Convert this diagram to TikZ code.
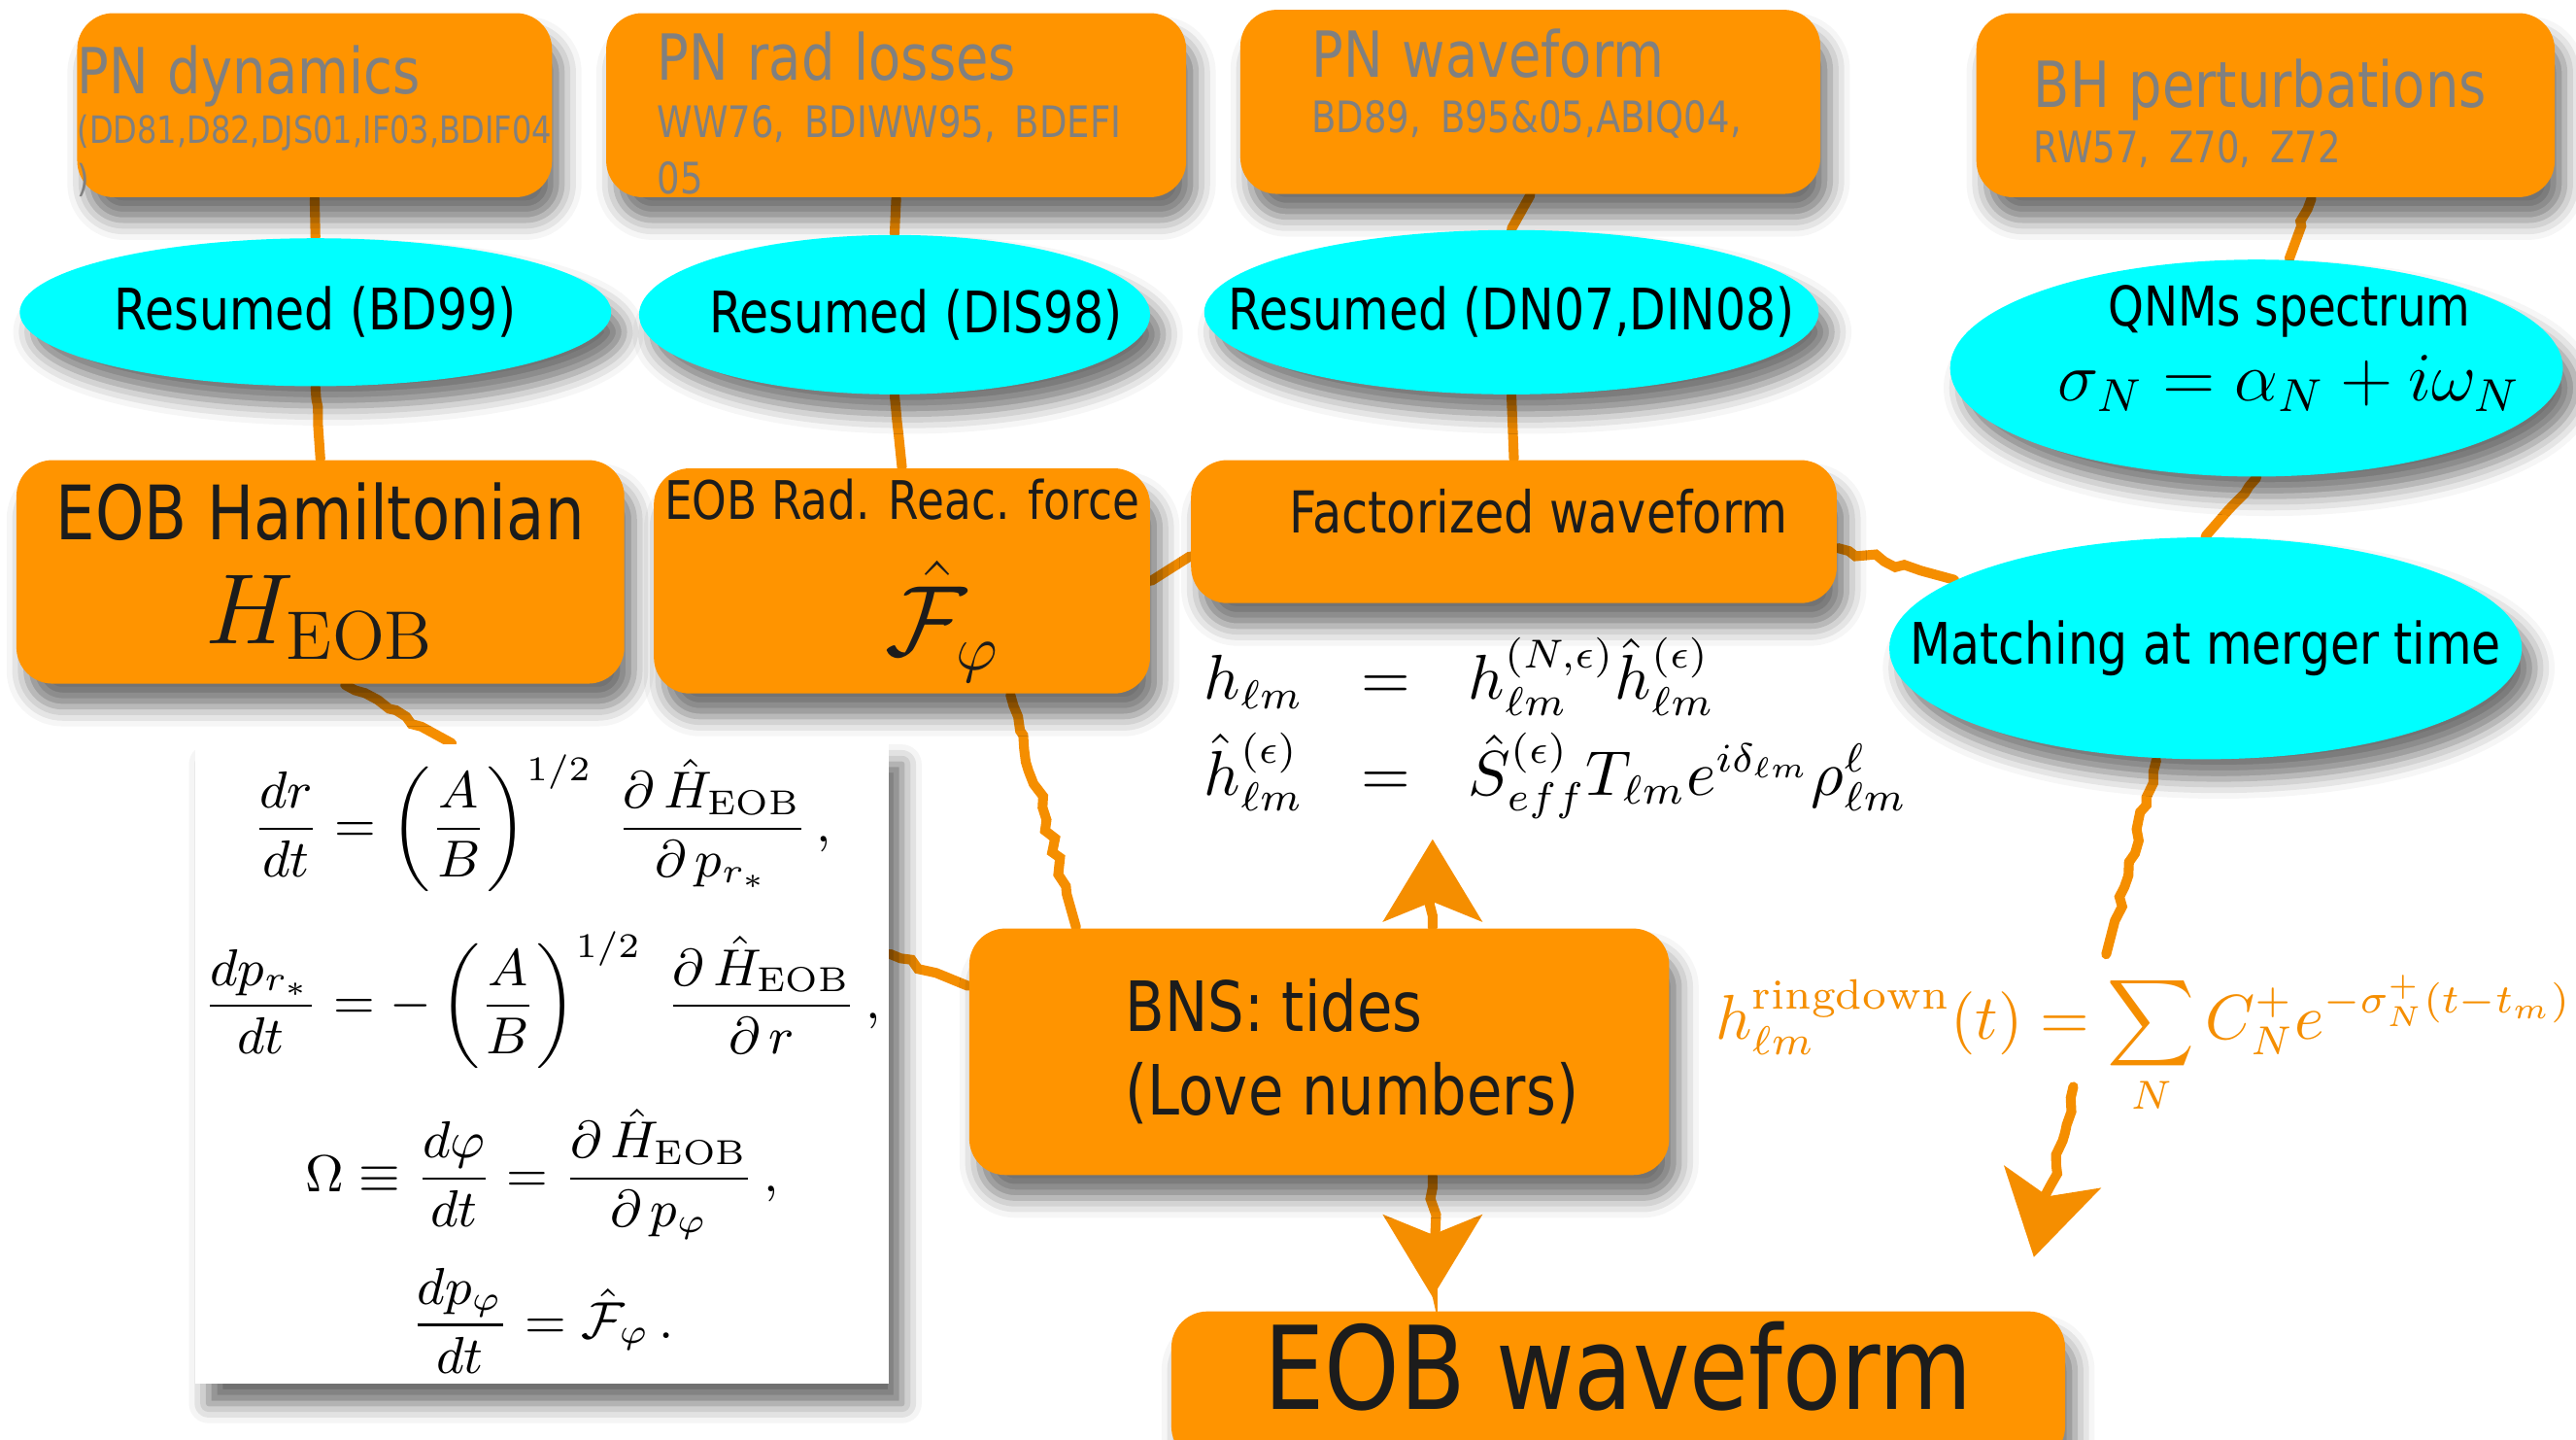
\documentclass[tikz,border=0pt]{standalone}
\usepackage{amsmath, amssymb}
\usepackage{fontspec}
\usetikzlibrary{shapes.geometric, arrows.meta, decorations.pathmorphing, shadows.blur}
\newfontfamily\handfont{DejaVu Sans}[FakeStretch=0.83]
\newcommand{\fsz}[2]{\fontsize{#1}{#2}\selectfont}
\definecolor{boxorange}{RGB}{255,148,0}
\definecolor{chalk}{RGB}{245,142,0}
\definecolor{qnmcyan}{RGB}{0,255,255}
\definecolor{refgray}{RGB}{128,128,128}
\definecolor{ink}{RGB}{28,28,28}
\pgfdeclarelayer{back}
\pgfsetlayers{back,main}

\begin{document}
\begin{tikzpicture}[
    ob/.style={rounded corners=0.22cm, fill=boxorange, text=ink, align=center,
               font=\handfont, inner sep=0pt,
               blur shadow={shadow xshift=0.6mm, shadow yshift=-1.4mm,
                            shadow blur radius=1.2mm, shadow opacity=55}},
    rb/.style={ob, text=refgray, align=left, minimum height=1.12cm},
    el/.style={ellipse, fill=qnmcyan, inner sep=0pt,
               blur shadow={shadow xshift=0.8mm, shadow yshift=-1.2mm,
                            shadow blur radius=1.2mm, shadow opacity=55}},
    et/.style={font=\handfont\fsz{9.9}{12}, align=center},
    eqbox/.style={fill=white, inner sep=0pt, minimum width=4.22cm, minimum height=3.89cm,
               blur shadow={shadow xshift=0.8mm, shadow yshift=-1.2mm,
                            shadow blur radius=1.2mm, shadow opacity=60}},
    ln/.style={draw=chalk, line width=1.7pt, line cap=round, decorate,
               decoration={random steps, segment length=2pt, amplitude=0.7pt,
                           pre length=2pt, post length=6pt}},
    ar/.style={ln, -{Stealth[length=0.5cm, width=0.6cm, inset=0.12cm]}}
  ]
  \useasboundingbox (0,0) rectangle (15.68,-8.76);

  % literature
  \node[rb, minimum width=2.89cm, text width=2.89cm, inner xsep=0pt] (pndyn) at (1.915,-0.64)
    {{\fsz{11}{13}PN dynamics\par}\fsz{6.5}{8.5}(DD81,D82,DJS01,IF03,BDIF04\\)\par\vspace*{-0.2cm}};
  \node[rb, minimum width=3.53cm, text width=2.91cm, inner xsep=0.31cm] (pnrad) at (5.455,-0.64)
    {{\fsz{11}{13}PN rad losses\par}\fsz{7.5}{9.8}WW76, BDIWW95, BDEFI\\05\par\vspace*{-0.1cm}};
  \node[rb, minimum width=3.53cm, text width=2.66cm, inner xsep=0.435cm] (pnwave) at (9.315,-0.62)
    {{\fsz{11}{13}PN waveform\par}\fsz{7.5}{9.5}BD89, B95\&05,ABIQ04,\par\vspace*{0.22cm}};
  \node[rb, minimum width=3.52cm, text width=2.82cm, inner xsep=0.35cm] (bhpert) at (13.79,-0.64)
    {{\fsz{11}{13}BH perturbations\par}\fsz{7.5}{9.5}RW57, Z70, Z72\par\vspace*{-0.1cm}};

  % resummations
  \node[el, minimum width=3.60cm, minimum height=0.90cm,
        label={[et]center:{Resumed (BD99)}}] (bd99) at (1.92,-1.90) {};
  \node[el, minimum width=3.11cm, minimum height=0.97cm,
        label={[et, xshift=0.13cm]center:{Resumed (DIS98)}}] (dis98) at (5.445,-1.915) {};
  \node[el, minimum width=3.74cm, minimum height=1.00cm,
        label={[et]center:{Resumed (DN07,DIN08)}}] (dn07) at (9.20,-1.90) {};
  \node[el, minimum width=3.73cm, minimum height=1.32cm,
        label={[et, font=\handfont\fsz{9.5}{12}, xshift=0.2cm, yshift=0.12cm]center:{QNMs spectrum\\[1pt]{\fsz{12}{14}$\sigma_N=\alpha_N+i\omega_N$}}}] (qnm) at (13.735,-2.24) {};

  % EOB building blocks
  \node[ob, minimum width=3.70cm, minimum height=1.36cm] (ham) at (1.95,-3.48)
    {{\fsz{13}{15}EOB Hamiltonian}\\[6pt]{\fsz{17}{19}$H_{\mathrm{EOB}}$}};
  \node[ob, minimum width=3.02cm, minimum height=1.37cm] (rad) at (5.49,-3.535)
    {{\fsz{9.2}{10}EOB Rad. Reac. force}\\[6pt]{\fsz{16}{18}\hspace*{0.5cm}$\hat{\mathcal F}_\varphi$}};
  \node[ob, minimum width=3.93cm, minimum height=0.87cm, text depth=0.25cm,
        font=\handfont\fsz{10}{12}] (fact) at (9.215,-3.235) {\hspace*{0.3cm}Factorized waveform};
  \node[el, minimum width=3.85cm, minimum height=1.35cm,
        label={[et]center:{Matching at merger time}}] (match) at (13.425,-3.945) {};
  \node[ob, minimum width=4.26cm, minimum height=1.50cm, align=left,
        font=\handfont\fsz{12}{14.5}] (bns) at (8.03,-6.40)
    {\hspace*{0.4cm}BNS: tides\\\hspace*{0.4cm}(Love numbers)};
  \node[ob, minimum width=5.44cm, minimum height=0.92cm, text depth=0.26cm,
        font=\handfont\fsz{20}{22}] (wave) at (9.85,-8.44) {EOB waveform};

  % formulas
  \node[eqbox] (eqs) at (3.30,-6.475) {\fsz{9}{11}$\begin{gathered}
      \frac{dr}{dt}=\left(\frac{A}{B}\right)^{1/2}\;\frac{\partial\,\hat H_{\mathrm{EOB}}}{\partial\,p_{r_*}}\,,\\[3pt]
      \frac{dp_{r_*}}{dt}=-\left(\frac{A}{B}\right)^{1/2}\;\frac{\partial\,\hat H_{\mathrm{EOB}}}{\partial\,r}\,,\\[3pt]
      \Omega\equiv\frac{d\varphi}{dt}=\frac{\partial\,\hat H_{\mathrm{EOB}}}{\partial\,p_\varphi}\,,\\[1pt]
      \frac{dp_\varphi}{dt}=\hat{\mathcal F}_\varphi\,.
    \end{gathered}$};
  \node[font=\fsz{10.6}{12.5}] (facteq) at (9.47,-4.43) {$\begin{array}{rcl}
      h_{\ell m} & = & h^{(N,\epsilon)}_{\ell m}\hat h^{(\epsilon)}_{\ell m}\\[2pt]
      \hat h^{(\epsilon)}_{\ell m} & = & \hat S^{(\epsilon)}_{eff}T_{\ell m}e^{i\delta_{\ell m}}\rho^{\ell}_{\ell m}
    \end{array}$};
  \node[text=chalk, font=\fsz{10.5}{13}] (ringdown) at (13.05,-6.36)
    {$\displaystyle h^{\mathrm{ringdown}}_{\ell m}(t)=\sum_N C^+_N e^{-\sigma^+_N(t-t_m)}$};
  \coordinate (rdtip) at (12.38,-7.65);

  \begin{pgfonlayer}{back}
    \draw[ln] (pndyn.south) -- (bd99.north);
    \draw[ln] (bd99.south) -- (ham.north);
    \draw[ln] (pnrad.south) -- (dis98.north);
    \draw[ln] (dis98.south) -- (rad.north);
    \draw[ln] (pnwave.south) -- (dn07.north);
    \draw[ln] (dn07.south) -- (fact.north);
    \draw[ln] ([xshift=0.28cm]bhpert.south) -- ([xshift=0.2cm]qnm.north);
    \draw[ln] (qnm.south) -- (match.north);
    \draw[ln] ([yshift=-0.1cm]fact.east) -- (match);
    \draw[ln] (rad.east) -- ([yshift=-0.15cm]fact.west);
    \draw[ln] ([xshift=0.15cm]ham.south) -- ([xshift=-0.55cm]eqs.north);
    \draw[ln] ([xshift=0.66cm]rad.south) -- ([xshift=-1.48cm]bns.north);
    \draw[ln] ([yshift=0.67cm]eqs.east) -- ([yshift=0.4cm]bns.west);
    \draw[ln] ([xshift=-0.3cm]match.south) -- ([xshift=-0.23cm]ringdown.north);
    \draw[ar] ([xshift=0.69cm]bns.north) -- ([xshift=-0.75cm]facteq.south);
    \draw[ar, shorten >=0.8mm] ([xshift=0.69cm]bns.south) -- ([xshift=-1.13cm]wave.north);
    \draw[ar] ([xshift=-0.43cm, yshift=0.3cm]ringdown.south) -- (rdtip);
  \end{pgfonlayer}
\end{tikzpicture}
\end{document}
